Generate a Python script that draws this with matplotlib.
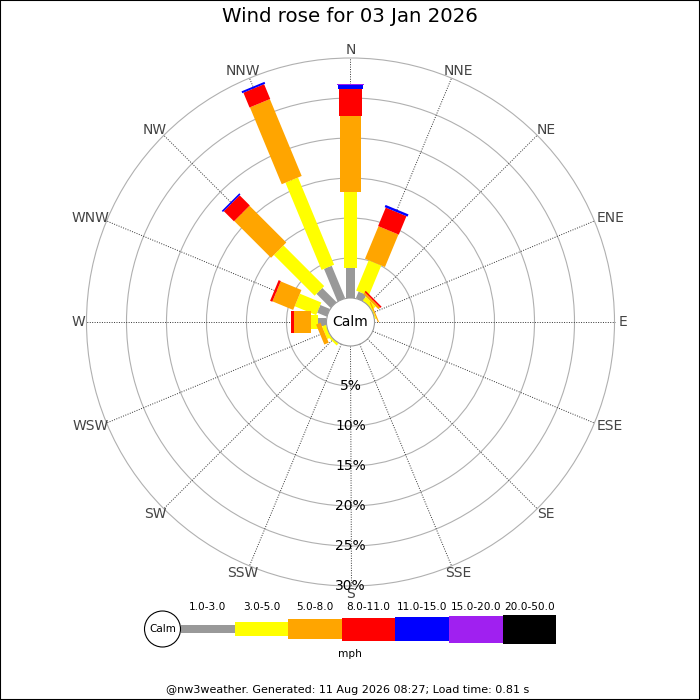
import numpy as np
import matplotlib
matplotlib.use('Agg')
import matplotlib.pyplot as plt
from matplotlib.patches import Polygon, Circle, Rectangle

directions = ['N', 'NNE', 'NE', 'ENE', 'E', 'ESE', 'SE', 'SSE',
              'S', 'SSW', 'SW', 'WSW', 'W', 'WNW', 'NW', 'NNW']
speed_bins = ['1.0-3.0', '3.0-5.0', '5.0-8.0', '8.0-11.0', '11.0-15.0', '15.0-20.0', '20.0-50.0']
bin_colors = ['#999999', '#ffff00', '#ffa500', '#ff0000', '#0000ff', '#a020f0', '#000000']

# frequency (%) per direction for each speed bin
freq_1_3 = [3.7, 0.9, 0.0, 0.0, 0.0, 0.0, 0.0, 0.0, 0.0, 0.0, 0.0, 0.0, 1.1, 1.3, 2.5, 4.4]
freq_3_5 = [9.5, 4.1, 0.6, 0.15, 0.0, 0.0, 0.0, 0.0, 0.0, 0.0, 0.3, 0.5, 0.8, 2.9, 7.2, 11.8]
freq_5_8 = [9.5, 4.4, 0.3, 0.15, 0.0, 0.0, 0.0, 0.0, 0.0, 0.0, 0.0, 0.6, 2.2, 2.8, 6.5, 10.4]
freq_8_11 = [3.4, 2.5, 0.2, 0.0, 0.0, 0.0, 0.0, 0.0, 0.0, 0.0, 0.0, 0.0, 0.35, 0.3, 1.8, 2.0]
freq_11_15 = [0.5, 0.3, 0.0, 0.0, 0.0, 0.0, 0.0, 0.0, 0.0, 0.0, 0.0, 0.0, 0.0, 0.0, 0.2, 0.25]
freq_15_20 = [0.1, 0.0, 0.0, 0.0, 0.0, 0.0, 0.0, 0.0, 0.0, 0.0, 0.0, 0.0, 0.0, 0.0, 0.0, 0.0]
freq_20_50 = [0.0] * 16

ring_values = [5, 10, 15, 20, 25, 30]
calm_r = 3.0  # radius of calm circle, in % units
bar_widths = [1.04, 1.7, 2.7, 2.8, 3.1, 3.4, 3.6]

series = [freq_1_3, freq_3_5, freq_5_8, freq_8_11, freq_11_15, freq_15_20, freq_20_50]

W, H = 700, 700
fig = plt.figure(figsize=(7, 7), dpi=100)
fig.patch.set_facecolor('white')

# main axes in % units, centre of rose at (350, 322) px, 8 px per %
px = 8.0
cx, cy = 350.5, 322
ax = fig.add_axes([0, 0, 1, 1])
ax.set_xlim(-cx / px, (W - cx) / px)
ax.set_ylim(-(H - cy) / px, cy / px)
ax.set_aspect('equal')
ax.axis('off')

rmax = calm_r + ring_values[-1]
for rv in ring_values:
    ax.add_patch(Circle((0, 0), calm_r + rv, fill=False, edgecolor='#b0b0b0', lw=0.8, zorder=1))

angles = np.deg2rad(np.arange(16) * 22.5)
for a in angles:
    ax.plot([calm_r * np.sin(a), rmax * np.sin(a)], [calm_r * np.cos(a), rmax * np.cos(a)],
            color='#333333', lw=0.7, linestyle=(0, (1, 1.5)), zorder=1)

for i, a in enumerate(angles):
    u = np.array([np.sin(a), np.cos(a)])
    v = np.array([np.cos(a), -np.sin(a)])
    r0 = calm_r
    for k, vals in enumerate(series):
        val = vals[i]
        if val <= 0:
            continue
        r1 = r0 + val
        hw = bar_widths[k] / 2
        pts = [r0 * u - hw * v, r1 * u - hw * v, r1 * u + hw * v, r0 * u + hw * v]
        ax.add_patch(Polygon(pts, closed=True, facecolor=bin_colors[k], edgecolor='none', zorder=2 + k * 0.1))
        r0 = r1

ax.add_patch(Circle((0, 0), calm_r, facecolor='white', edgecolor='#999999', lw=0.8, zorder=5))
ax.text(0, 0, 'Calm', ha='center', va='center', fontsize=10, zorder=6)

for rv in ring_values:
    ax.text(0, -(calm_r + rv), f'{rv}%', ha='center', va='center', fontsize=10, color='black', zorder=6)

for d, a in zip(directions, angles):
    rl = rmax + 1.0
    shift = (len(d) - 1) * 4.5 / px  # push longer labels outwards
    ax.text(rl * np.sin(a) + shift * np.sin(a), rl * np.cos(a), d,
            ha='center', va='center', fontsize=10, color='#444444')

fig.text(0.5, 1 - 17 / H, 'Wind rose for 03 Jan 2026', ha='center', va='center', fontsize=14.2)

# legend, pixel coordinates
lax = fig.add_axes([0, 0, 1, 1])
lax.set_xlim(0, W)
lax.set_ylim(H, 0)
lax.axis('off')
lax.patch.set_alpha(0)

ly = 629
seg_w = 53.6
seg_h = [8, 14, 20, 23, 24, 27, 29]
x0 = 181
for k, lab in enumerate(speed_bins):
    lax.add_patch(Rectangle((x0 + k * seg_w, ly - seg_h[k] / 2), seg_w, seg_h[k],
                            facecolor=bin_colors[k], edgecolor='none'))
    lax.text(x0 + (k + 0.5) * seg_w, 607, lab, ha='center', va='center', fontsize=7.6)
lax.add_patch(Circle((162.5, ly), 18, facecolor='white', edgecolor='black', lw=0.8, zorder=3))
lax.text(162.5, ly, 'Calm', ha='center', va='center', fontsize=7.5, zorder=4)
lax.text(350, 654, 'mph', ha='center', va='center', fontsize=7.6)

fig.text(348 / W, 1 - 690 / H, '@nw3weather. Generated: 11 Aug 2026 08:27; Load time: 0.81 s',
         ha='center', va='center', fontsize=8)

fig.patches.append(Rectangle((0, 0), 1, 1, transform=fig.transFigure, fill=False,
                             edgecolor='black', lw=1.5))

fig.savefig('out.png', dpi=100)
